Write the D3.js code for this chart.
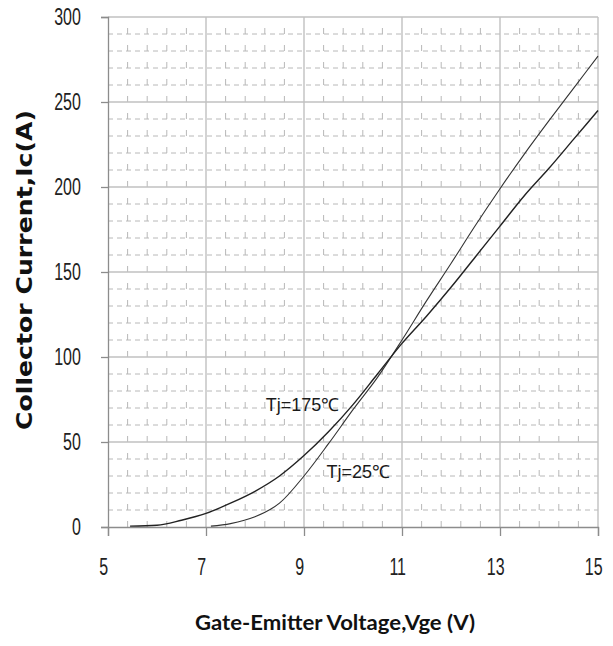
<!DOCTYPE html>
<html>
<head>
<meta charset="utf-8">
<script src="https://cdn.jsdelivr.net/npm/d3@7"></script>
<style>
  body{margin:0;background:#fff;}
  svg{display:block;}
</style>
</head>
<body>
<div id="chart"></div>
<script>
// transfer characteristic, Ic vs Vge
const xTicks = [5,7,9,11,13,15]
const yTicks = [0,50,100,150,200,250,300]

const seriesNames = ["Tj=25℃","Tj=175℃"]

// [Vge, Ic]
const tj25 = [
    [7.1,0.5],[7.5,2],[8.0,6],[8.5,14],[9.0,30],[9.5,49],[10.0,69],[10.5,88],
    [11.0,110],[11.5,133],[12.0,155],[12.5,177.5],[13.0,199],[13.5,219.5],
    [14.0,239],[14.5,258],[15.0,277]
]
const tj175 = [
    [5.45,0.5],[6.0,1],[6.5,4],[7.0,8],[7.5,14],[8.0,21],[8.5,30],[9.0,42],
    [9.5,56],[10.0,72],[10.5,90],[11.0,108],[11.5,124],[12.0,141],[12.5,159],
    [13.0,177],[13.5,195],[14.0,211],[14.5,228],[15.0,245]
]

const margin = {top:17,right:15,bottom:119,left:108}
const W = 613, H = 646
const width = W - margin.left - margin.right
const height = H - margin.top - margin.bottom

const svg = d3.select("#chart")
    .append("svg")
    .attr("width",W)
    .attr("height",H)

const g = svg.append("g")
    .attr("transform",`translate(${margin.left},${margin.top})`)

const x = d3.scaleLinear().domain([5,15]).range([0,width])
const y = d3.scaleLinear().domain([0,300]).range([height,0])

// minor grid (dashed)
const xMinor = d3.range(5,15.001,0.4).filter(v => Math.abs((v-5)/2 - Math.round((v-5)/2)) > 0.01)
const yMinor = d3.range(0,301,10).filter(v => v % 50 !== 0)

g.append("g").selectAll("line")
    .data(yMinor)
    .join("line")
    .attr("x1",0).attr("x2",width)
    .attr("y1",d=>y(d)).attr("y2",d=>y(d))
    .attr("stroke","#b8b8b8")
    .attr("stroke-width",1)
    .attr("stroke-dasharray","5,4")

g.append("g").selectAll("line")
    .data(xMinor)
    .join("line")
    .attr("x1",d=>x(d)).attr("x2",d=>x(d))
    .attr("y1",height).attr("y2",0)
    .attr("stroke","#b8b8b8")
    .attr("stroke-width",1)
    .attr("stroke-dasharray","6,11")

// major grid
g.append("g").selectAll("line")
    .data(yTicks.slice(1))
    .join("line")
    .attr("x1",0).attr("x2",width)
    .attr("y1",d=>y(d)).attr("y2",d=>y(d))
    .attr("stroke","#c0c0c0")
    .attr("stroke-width",1.4)

g.append("g").selectAll("line")
    .data(xTicks.slice(1))
    .join("line")
    .attr("x1",d=>x(d)).attr("x2",d=>x(d))
    .attr("y1",0).attr("y2",height)
    .attr("stroke","#c0c0c0")
    .attr("stroke-width",1.4)

// axes
const tickFont = "'Liberation Sans',Arial,sans-serif"

const yAxis = g.append("g")
    .call(d3.axisLeft(y).tickValues(yTicks).tickSize(7).tickFormat(d3.format("d")))
yAxis.select(".domain").attr("stroke","#8c8c8c").attr("stroke-width",1.3)
yAxis.selectAll(".tick line").attr("stroke","#8c8c8c").attr("stroke-width",1.3)
yAxis.selectAll(".tick text")
    .attr("x",-34)
    .attr("fill","#222")
    .style("font-family",tickFont)
    .style("font-size","20px")
    .attr("transform","scale(0.8,1.2)")

const xAxis = g.append("g")
    .attr("transform",`translate(0,${height})`)
    .call(d3.axisBottom(x).tickValues(xTicks).tickSize(9).tickFormat(d3.format("d")))
xAxis.select(".domain").attr("stroke","#8c8c8c").attr("stroke-width",1.3)
xAxis.selectAll(".tick line").attr("stroke","#8c8c8c").attr("stroke-width",1.3)
xAxis.selectAll(".tick text")
    .attr("y",26)
    .attr("dx",-6)
    .attr("fill","#222")
    .style("font-family",tickFont)
    .style("font-size","20px")
    .attr("transform","scale(0.8,1.2)")

// curves
const line = d3.line()
    .x(d=>x(d[0]))
    .y(d=>y(d[1]))
    .curve(d3.curveMonotoneX)

g.append("path")
    .datum(tj25)
    .attr("d",line)
    .attr("fill","none")
    .attr("stroke","#333")
    .attr("stroke-width",1.1)

g.append("path")
    .datum(tj175)
    .attr("d",line)
    .attr("fill","none")
    .attr("stroke","#222")
    .attr("stroke-width",1.4)

// curve labels
const labelFont = "'Liberation Sans',Arial,sans-serif"
g.append("text")
    .attr("x",x(8.22)).attr("y",y(68))
    .text(seriesNames[1])
    .attr("fill","#1a1a1a")
    .style("font-family",labelFont)
    .style("font-size","18px")

g.append("text")
    .attr("x",x(9.46)).attr("y",y(29))
    .text(seriesNames[0])
    .attr("fill","#1a1a1a")
    .style("font-family",labelFont)
    .style("font-size","18px")

// axis titles
svg.append("text")
    .attr("x",335).attr("y",630)
    .attr("text-anchor","middle")
    .attr("textLength",280)
    .attr("lengthAdjust","spacingAndGlyphs")
    .text("Gate-Emitter Voltage,Vge (V)")
    .attr("fill","#111")
    .style("font-family","Lato,'Open Sans',sans-serif")
    .style("font-weight","bold")
    .style("font-size","20px")

svg.append("text")
    .attr("transform","translate(32,270) rotate(-90)")
    .attr("text-anchor","middle")
    .attr("textLength",320)
    .attr("lengthAdjust","spacingAndGlyphs")
    .text("Collector Current,Ic(A)")
    .attr("fill","#111")
    .style("font-family","'DejaVu Sans',Verdana,sans-serif")
    .style("font-weight","bold")
    .style("font-size","22px")
</script>
</body>
</html>
